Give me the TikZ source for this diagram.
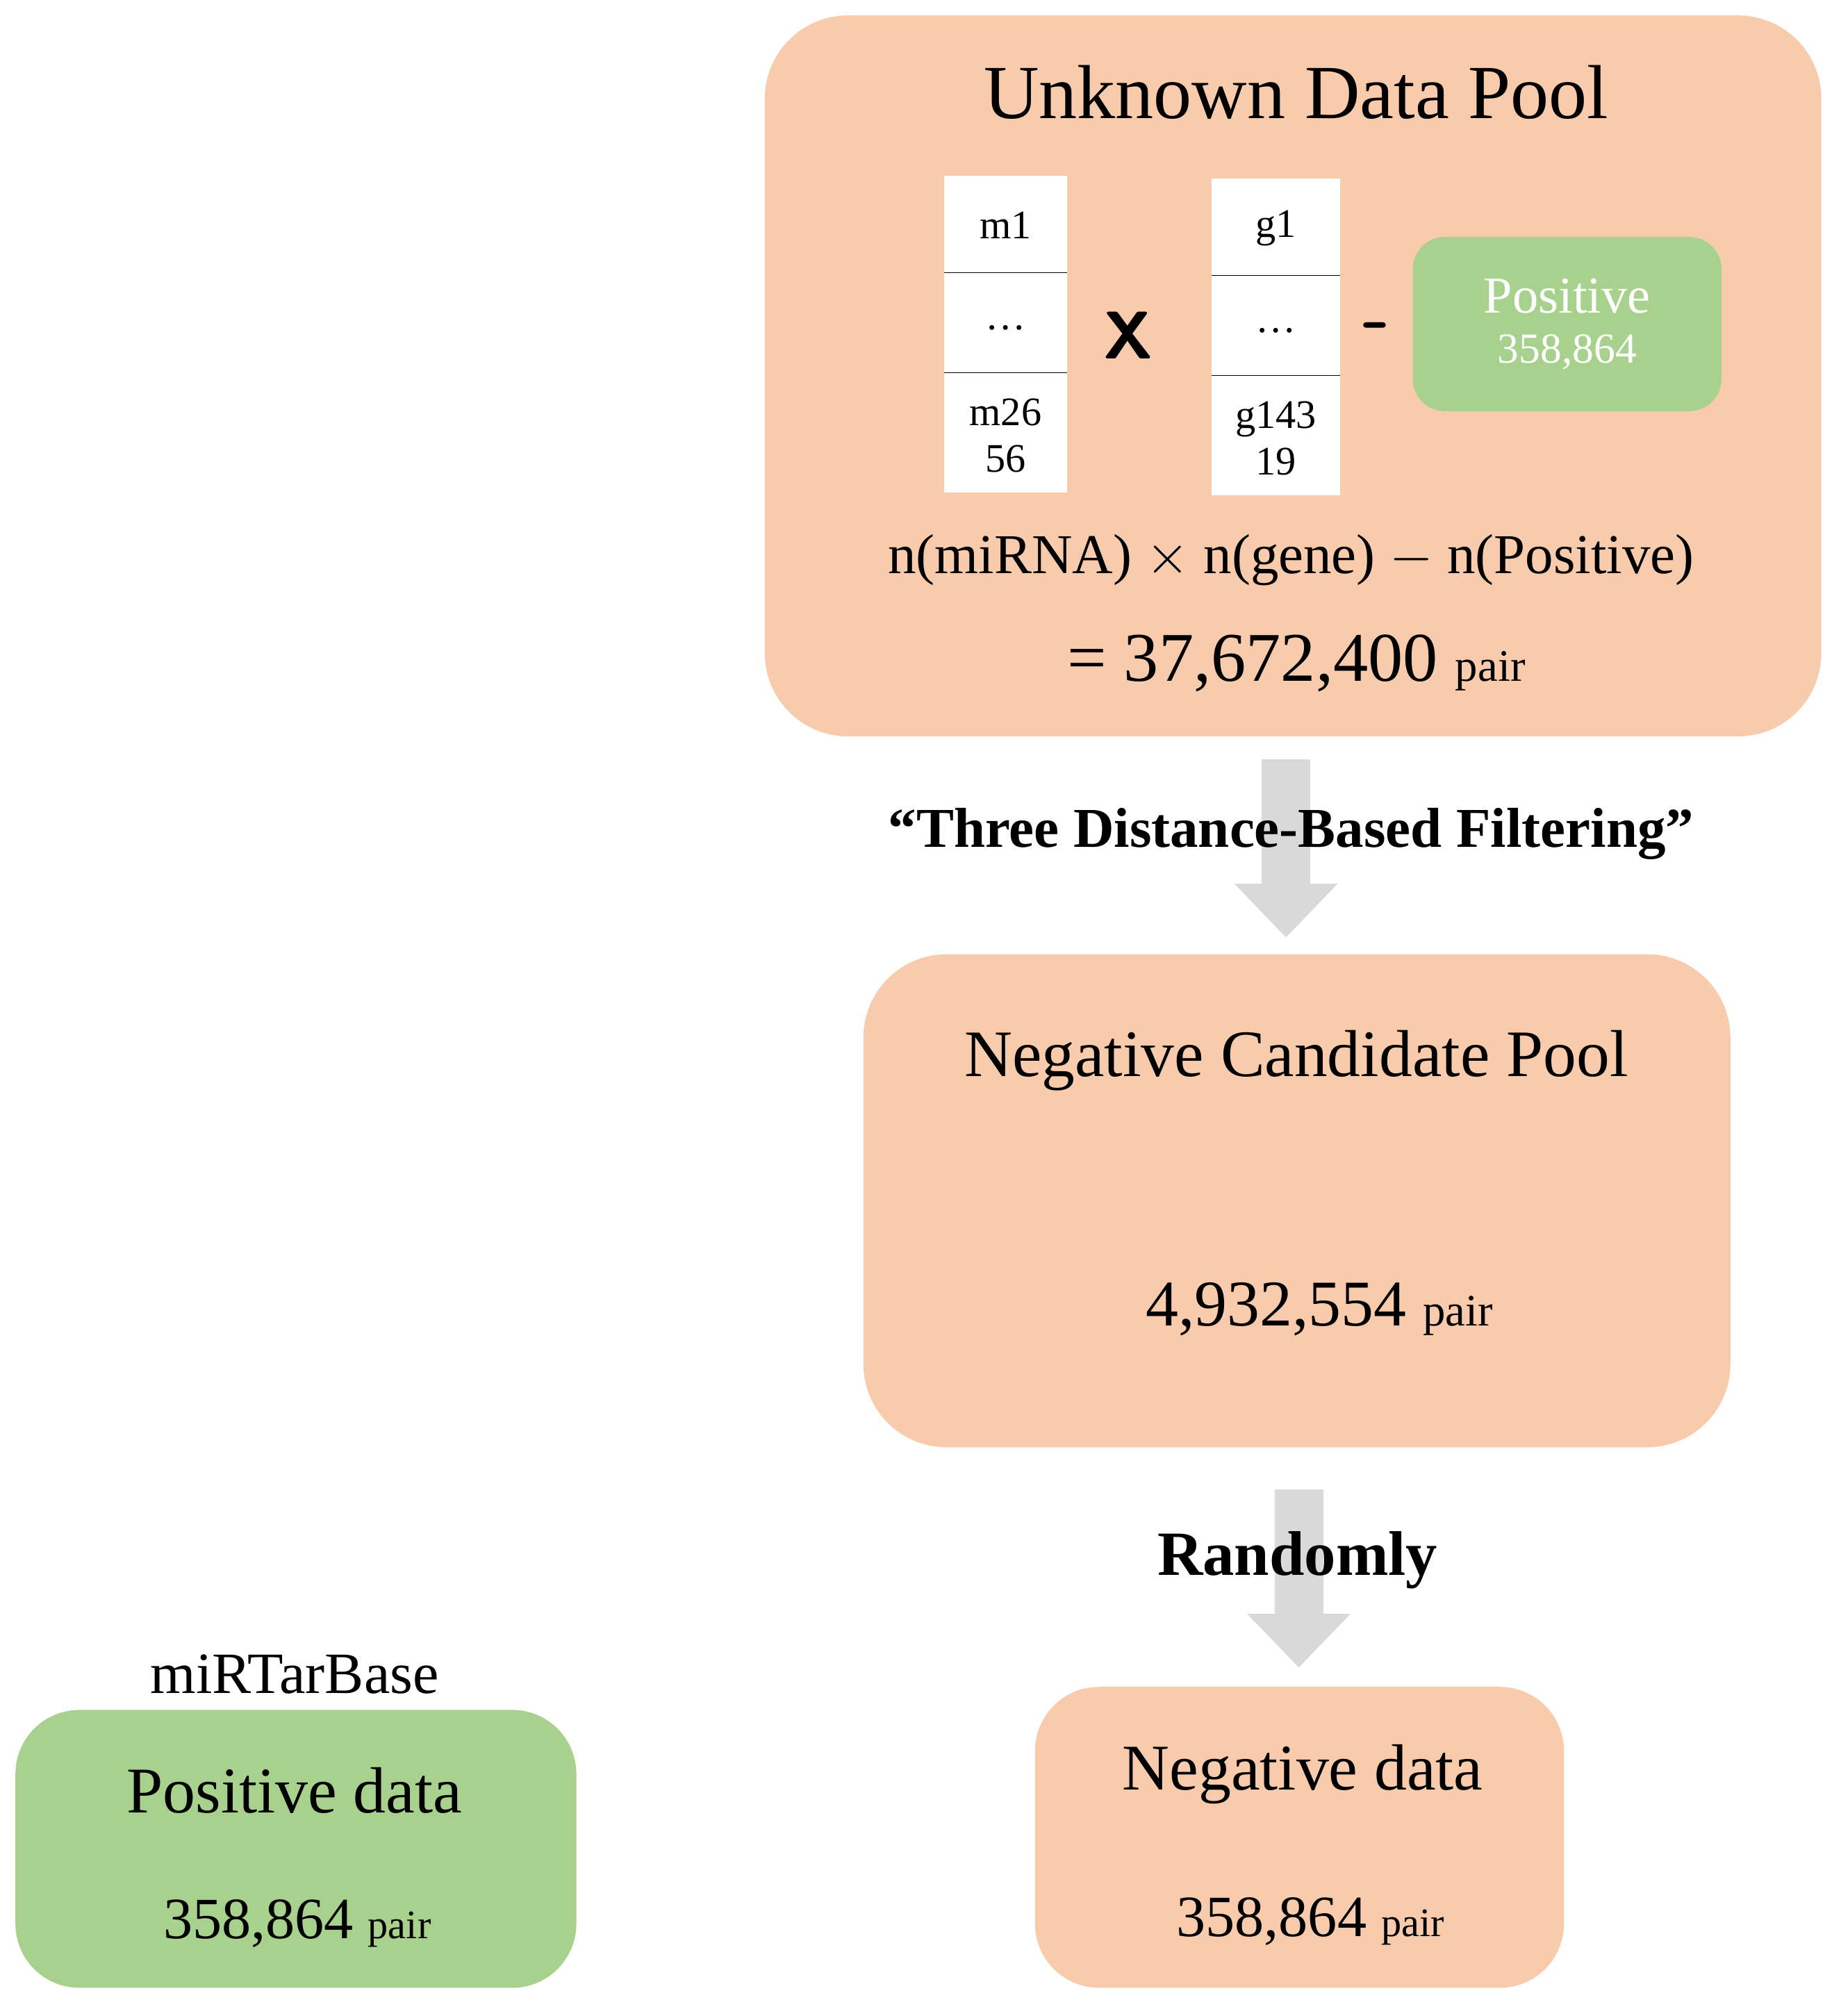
\documentclass[tikz,border=0pt]{standalone}
\usepackage{fontspec}
\setmainfont{Liberation Serif}
\usepackage{tikz}
\usetikzlibrary{arrows.meta}
\usetikzlibrary{shapes}
\definecolor{lachs}{HTML}{F8CBAD}
\definecolor{gruen}{HTML}{A9D18E}
\definecolor{pfeil}{HTML}{D9D9D9}
\newcommand{\fs}[1]{\fontsize{#1}{1.15\dimexpr#1\relax}\selectfont}

\begin{document}
\begin{tikzpicture}[x=0.02cm,y=-0.02cm,
    box/.style={draw=none, rectangle, rounded corners=1.3cm, fill=lachs},
    tab/.style={draw=none, rectangle, fill=white, minimum width=1.95cm, minimum height=4.95cm},
    cell/.style={font=\fs{18pt}, align=center, inner sep=0pt},
    big/.style={line width=0.76cm, pfeil, -{Triangle[width=1.56cm,length=0.84cm]}}]
        \useasboundingbox (0,0) rectangle (1437,1574);

        \node[box, minimum width=16.5cm, minimum height=11.26cm] (U) at (1009.5, 293.5) {};
        \node[font=\fs{34pt}] (Ut) at (1012, 72) {Unknown Data Pool};

        \node[tab, minimum width=1.92cm] (MT) at (785, 261) {};
        \draw (737, 213) -- (833, 213);
        \draw (737, 291) -- (833, 291);
        \node[cell] (m1) at (785, 176) {m1};
        \node[cell] (md) at (785, 256) {\dots};
        \node[cell] (mn) at (785, 340) {m26\\56};

        \node[tab, minimum width=2cm] (GT) at (996, 263) {};
        \draw (946, 215) -- (1046, 215);
        \draw (946, 293) -- (1046, 293);
        \node[cell] (g1) at (996, 178) {g1};
        \node[cell] (gd) at (996, 258) {\dots};
        \node[cell] (gn) at (996, 342) {g143\\19};

        \node[font=\fs{30pt}\sffamily\bfseries] (X) at (881, 262) {X};
        \node[font=\fs{34pt}\sffamily\bfseries] (M) at (1075, 260) {-};

        \node[draw=none, rectangle, rounded corners=0.5cm, fill=gruen, minimum width=4.82cm, minimum height=2.72cm, text=white, align=center, font=\fs{23pt}] (P) at (1223.5, 253) {Positive\\[-4pt]{\fs{19pt}358,864}};

        \node[font=\fs{25pt}] (F) at (1008, 437) {n(miRNA) $\times$ n(gene) $-$ n(Positive)};
        \node[font=\fs{31pt}] (N1) at (1012, 518) {= 37,672,400 {\fs{20pt}pair}};

        \node[box, minimum width=13.54cm, minimum height=7.7cm] (C) at (1012.5, 937.5) {};
        \node[font=\fs{29.5pt}] (Ct) at (1012, 828) {Negative Candidate Pool};
        \node[font=\fs{29pt}] (Cn) at (1030, 1022) {4,932,554 {\fs{20pt}pair}};

        \node[box, rounded corners=1cm, minimum width=8.26cm, minimum height=4.7cm] (ND) at (1014.5, 1434.5) {};
        \node[font=\fs{29pt}] (NDt) at (1017, 1385) {Negative data};
        \node[font=\fs{26pt}] (NDn) at (1023, 1500) {358,864 {\fs{18pt}pair}};

        \node[draw=none, rectangle, rounded corners=1cm, fill=gruen, minimum width=8.76cm, minimum height=4.34cm] (PD) at (231, 1443.5) {};
        \node[font=\fs{26pt}] (PDl) at (230, 1307) {miRTarBase};
        \node[font=\fs{29pt}] (PDt) at (230, 1398) {Positive data};
        \node[font=\fs{26pt}] (PDn) at (232, 1502) {358,864 {\fs{18pt}pair}};

        \coordinate (a1) at (1004, 593);
        \coordinate (b1) at (1004, 732);
        \coordinate (a2) at (1014, 1163);
        \coordinate (b2) at (1014, 1302);
        \draw[big] (a1) -- (b1);
        \draw[big] (a2) -- (b2);

        \node[font=\fs{25pt}\bfseries] (L1) at (1008, 651) {“Three Distance-Based Filtering”};
        \node[font=\fs{28pt}\bfseries] (L2) at (1013, 1218) {Randomly};

    \end{tikzpicture}
\end{document}
